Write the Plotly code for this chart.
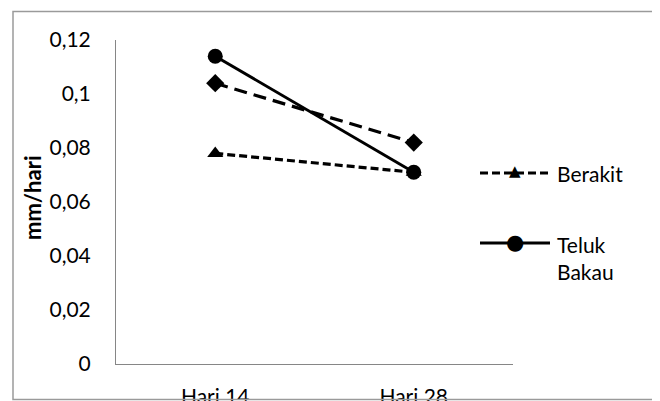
import plotly.graph_objects as go

categories = ["Hari 14", "Hari 28"]
berakit = [0.078, 0.071]
teluk_bakau = [0.114, 0.071]
seri3 = [0.104, 0.082]
y_ticks = [0, 0.02, 0.04, 0.06, 0.08, 0.10, 0.12]
y_ticktext = ["0", "0,02", "0,04", "0,06", "0,08", "0,1", "0,12"]

OFF = 8  # browser default body margin
W, H = 660 - OFF, 401 - OFF
L, R, T, B = 116, 513, 40, 364  # plot area in screen px

def px(x):
    return (x - L) / (R - L)

def py(y):
    return (B - y) / (B - T)

FONT = "Lato"
FS = 21

fig = go.Figure()
fig.add_trace(go.Scatter(
    x=categories, y=seri3, mode="lines+markers", showlegend=False,
    line=dict(color="black", width=3.2, dash="13px,7px"),
    marker=dict(symbol="diamond", size=14, color="black")))
fig.add_trace(go.Scatter(
    x=categories, y=berakit, mode="lines+markers", name="Berakit", showlegend=False,
    line=dict(color="black", width=3.2, dash="8px,4px"),
    marker=dict(symbol="triangle-up", size=14, color="black")))
fig.add_trace(go.Scatter(
    x=categories, y=teluk_bakau, mode="lines+markers", name="Teluk Bakau", showlegend=False,
    line=dict(color="black", width=3),
    marker=dict(symbol="circle", size=15, color="black")))

shapes = [
    # outer border
    dict(type="rect", xref="paper", yref="paper", x0=px(13), x1=px(656), y0=py(11.5), y1=py(399.5),
         line=dict(color="#9a9a9a", width=1.5), layer="above"),
    # legend lines
    dict(type="line", xref="paper", yref="paper", x0=px(480), x1=px(550), y0=py(173), y1=py(173),
         line=dict(color="black", width=3.2, dash="8px,4px")),
    dict(type="line", xref="paper", yref="paper", x0=px(480), x1=px(550), y0=py(243), y1=py(243),
         line=dict(color="black", width=3)),
]

annotations = [
    dict(text="▲", xref="paper", yref="paper", x=px(515), y=py(171), showarrow=False,
         font=dict(family="DejaVu Sans", size=15, color="black"), xanchor="center", yanchor="middle"),
    dict(text="●", xref="paper", yref="paper", x=px(515), y=py(242), showarrow=False,
         font=dict(family="DejaVu Sans", size=21, color="black"), xanchor="center", yanchor="middle"),
    dict(text="Berakit", xref="paper", yref="paper", x=px(555), y=py(173), showarrow=False,
         font=dict(family=FONT, size=FS, color="black"), xanchor="left", yanchor="middle"),
    dict(text="Teluk<br>Bakau", xref="paper", yref="paper", x=px(555), y=py(258), showarrow=False,
         font=dict(family=FONT, size=FS, color="black"), xanchor="left", yanchor="middle", align="left"),
    dict(text="<b>mm/hari</b>", xref="paper", yref="paper", x=px(33), y=py(198), showarrow=False,
         textangle=-90, font=dict(family=FONT, size=22, color="black"), xanchor="center", yanchor="middle"),
]

fig.update_layout(
    width=W, height=H,
    margin=dict(l=L - OFF, r=660 - R, t=T - OFF, b=401 - B, pad=0),
    paper_bgcolor="white", plot_bgcolor="white",
    font=dict(family=FONT, size=FS, color="black"),
    shapes=shapes, annotations=annotations,
    xaxis=dict(showgrid=False, showline=True, linecolor="#868686", linewidth=1,
               ticks="", ticklabelstandoff=14, zeroline=False, range=[-0.5, 1.5],
               automargin=False),
    yaxis=dict(range=[0, 0.12], tickvals=y_ticks, ticktext=y_ticktext, showgrid=False,
               showline=True, linecolor="#868686", linewidth=1, ticks="", zeroline=False,
               ticklabelstandoff=20, automargin=False),
)

fig.write_html("out.html")
